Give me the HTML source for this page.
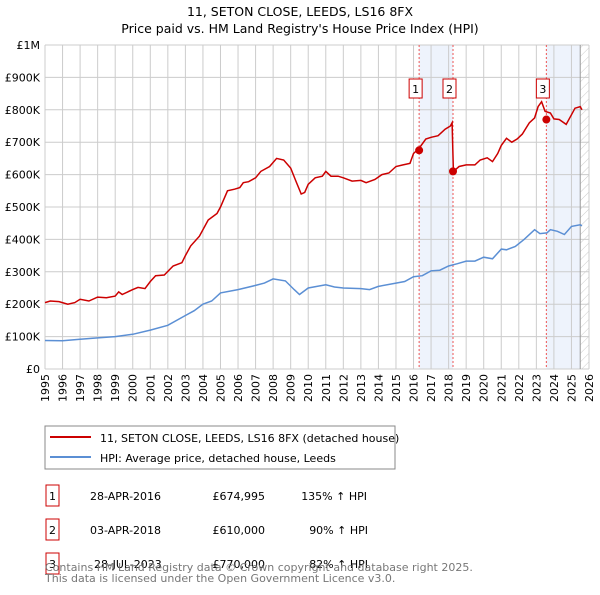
<!DOCTYPE html>
<html><head><meta charset="utf-8"><style>
body{margin:0;background:#fff;font-family:"Liberation Sans","DejaVu Sans",sans-serif;}
svg text{font-family:"DejaVu Sans","Liberation Sans",sans-serif;}
</style></head><body>
<svg id="c" width="600" height="590" xmlns="http://www.w3.org/2000/svg">
<defs><pattern id="hatch" width="6" height="6" patternUnits="userSpaceOnUse" patternTransform="rotate(45)"><line x1="0" y1="0" x2="0" y2="6" stroke="#ccc" stroke-width="1"/></pattern></defs>
<text x="300" y="16" text-anchor="middle" font-size="12.5" fill="#000">11, SETON CLOSE, LEEDS, LS16 8FX</text>
<text x="300" y="33" text-anchor="middle" font-size="12.5" fill="#000">Price paid vs. HM Land Registry's House Price Index (HPI)</text>
<g id="plot"></g>
<rect x="45" y="426" width="350" height="43" fill="#fff" stroke="#888"/>
<line x1="50" y1="437" x2="91" y2="437" stroke="#cc0000" stroke-width="2"/>
<text x="100" y="442" font-size="11">11, SETON CLOSE, LEEDS, LS16 8FX (detached house)</text>
<line x1="50" y1="457" x2="91" y2="457" stroke="#5b8fd4" stroke-width="2"/>
<text x="100" y="462" font-size="11">HPI: Average price, detached house, Leeds</text>
<g font-size="11">
<rect x="46" y="485" width="13" height="21" fill="none" stroke="#cc0000"/><text x="52.5" y="500" text-anchor="middle">1</text>
<text x="90" y="500">28-APR-2016</text><text x="265" y="500" text-anchor="end">£674,995</text><text x="367" y="500" text-anchor="end">135% ↑ HPI</text>
<rect x="46" y="519" width="13" height="21" fill="none" stroke="#cc0000"/><text x="52.5" y="534" text-anchor="middle">2</text>
<text x="90" y="534">03-APR-2018</text><text x="265" y="534" text-anchor="end">£610,000</text><text x="368" y="534" text-anchor="end">90% ↑ HPI</text>
<rect x="46" y="553" width="13" height="21" fill="none" stroke="#cc0000"/><text x="52.5" y="568" text-anchor="middle">3</text>
<text x="94" y="568">28-JUL-2023</text><text x="265" y="568" text-anchor="end">£770,000</text><text x="368" y="568" text-anchor="end">82% ↑ HPI</text>
</g>
<text x="45" y="571" font-size="11" fill="#777">Contains HM Land Registry data © Crown copyright and database right 2025.</text>
<text x="45" y="582" font-size="11" fill="#777">This data is licensed under the Open Government Licence v3.0.</text>
</svg>
<script>
const yTicks=[0,100,200,300,400,500,600,700,800,900,1000];
const yTickLabels=["£0","£100K","£200K","£300K","£400K","£500K","£600K","£700K","£800K","£900K","£1M"];
const years=[1995,1996,1997,1998,1999,2000,2001,2002,2003,2004,2005,2006,2007,2008,2009,2010,2011,2012,2013,2014,2015,2016,2017,2018,2019,2020,2021,2022,2023,2024,2025,2026];
const redT=[1995.0,1995.3,1995.8,1996.3,1996.7,1997.0,1997.5,1998.0,1998.5,1999.0,1999.2,1999.4,2000.0,2000.3,2000.7,2001.0,2001.3,2001.8,2002.3,2002.8,2003.0,2003.3,2003.8,2004.3,2004.8,2005.0,2005.4,2005.8,2006.1,2006.3,2006.6,2007.0,2007.3,2007.8,2008.2,2008.6,2009.0,2009.3,2009.6,2009.8,2010.0,2010.4,2010.8,2011.0,2011.3,2011.7,2012.0,2012.5,2013.0,2013.3,2013.8,2014.2,2014.6,2015.0,2015.4,2015.8,2016.0,2016.3,2016.7,2017.0,2017.4,2017.8,2018.1,2018.2,2018.27,2018.6,2019.0,2019.5,2019.8,2020.2,2020.5,2020.8,2021.0,2021.3,2021.6,2021.9,2022.2,2022.6,2022.9,2023.1,2023.3,2023.5,2023.8,2024.0,2024.3,2024.7,2025.0,2025.2,2025.5,2025.6];
const redV=[205,210,208,200,205,215,210,222,220,225,238,230,245,252,248,270,288,290,318,328,350,380,410,460,480,500,550,555,560,575,578,590,610,625,650,645,620,580,540,545,570,590,595,610,595,595,590,580,582,575,585,600,605,625,630,635,665,680,710,715,720,740,750,760,610,625,630,630,645,652,640,665,690,712,700,710,725,760,775,810,825,795,790,772,770,755,785,805,810,800];
const hpiT=[1995,1996,1997,1998,1999,2000,2001,2002,2003,2003.5,2004,2004.5,2005,2006,2007,2007.5,2008,2008.7,2009.2,2009.5,2010,2010.5,2011,2011.5,2012,2013,2013.5,2014,2015,2015.5,2016,2016.5,2017,2017.5,2018,2018.5,2019,2019.5,2020,2020.5,2021,2021.3,2021.8,2022.3,2022.9,2023.2,2023.6,2023.8,2024.2,2024.6,2025,2025.5,2025.6];
const hpiV=[88,87,92,96,100,107,120,135,165,180,200,210,235,245,258,265,278,272,245,230,250,255,260,253,250,248,245,255,265,270,285,288,303,305,318,325,333,333,345,340,370,368,378,400,430,418,420,430,425,415,440,445,442];
const saleLabels=["1","2","3"];
const saleT=[2016.32,2018.25,2023.57];
const saleV=[674.995,610,770];
const X0=45,X1=589,Y0=369,Y1=45;
const x=t=>X0+(t-1995)/(2026-1995)*(X1-X0);
const y=v=>Y0-v/1000*(Y0-Y1);
const NS="http://www.w3.org/2000/svg";
const g=document.getElementById('plot');
function mk(tag,attrs,parent){const e=document.createElementNS(NS,tag);for(const k in attrs)e.setAttribute(k,attrs[k]);(parent||g).appendChild(e);return e;}
// shading
let r=mk('rect',{x:x(saleT[0]),y:Y1,width:x(saleT[1])-x(saleT[0]),height:Y0-Y1,fill:'#eef3fc'});


r=mk('rect',{x:x(saleT[2]),y:Y1,width:x(2025.5)-x(saleT[2]),height:Y0-Y1,fill:'#eef3fc'});


r=mk('rect',{x:x(2025.5),y:Y1,width:X1-x(2025.5),height:Y0-Y1,fill:'url(#hatch)'});


// grid
years.forEach(yr=>{const l=mk('line',{x1:x(yr),x2:x(yr),y1:Y1,y2:Y0,stroke:'#ccc'});


const t=mk('text',{x:0,y:0,'font-size':11,'text-anchor':'end',transform:`translate(${x(yr)+4},${Y0+5}) rotate(-90)`});t.textContent=yr;

});
yTicks.forEach((v,i)=>{const l=mk('line',{x1:X0,x2:X1,y1:y(v),y2:y(v),stroke:'#ccc'});


const t=mk('text',{x:X0-5,y:y(v)+4,'font-size':11,'text-anchor':'end'});t.textContent=yTickLabels[i];

});
let ln=mk('line',{x1:x(2025.5),x2:x(2025.5),y1:Y1,y2:Y0,stroke:'#999'});


saleT.forEach((t,i)=>{const l=mk('line',{x1:x(t),x2:x(t),y1:Y1,y2:Y0,stroke:'#e55','stroke-dasharray':'2,2'});

});
const path=(T,V)=>T.map((t,i)=>(i?'L':'M')+x(t).toFixed(1)+','+y(V[i]).toFixed(1)).join('');
let p=mk('path',{d:path(hpiT,hpiV),fill:'none',stroke:'#5b8fd4','stroke-width':1.5});


p=mk('path',{d:path(redT,redV),fill:'none',stroke:'#cc0000','stroke-width':1.5});


saleT.forEach((t,i)=>{const c=mk('circle',{cx:x(t),cy:y(saleV[i]),r:4,fill:'#cc0000'});


const b=mk('rect',{x:x(t)-10,y:79,width:13,height:19,fill:'#fff',stroke:'#cc0000'});


const tx=mk('text',{x:x(t)-3.5,y:93,'font-size':11,'text-anchor':'middle'});tx.textContent=saleLabels[i];

});
</script>
</body></html>
